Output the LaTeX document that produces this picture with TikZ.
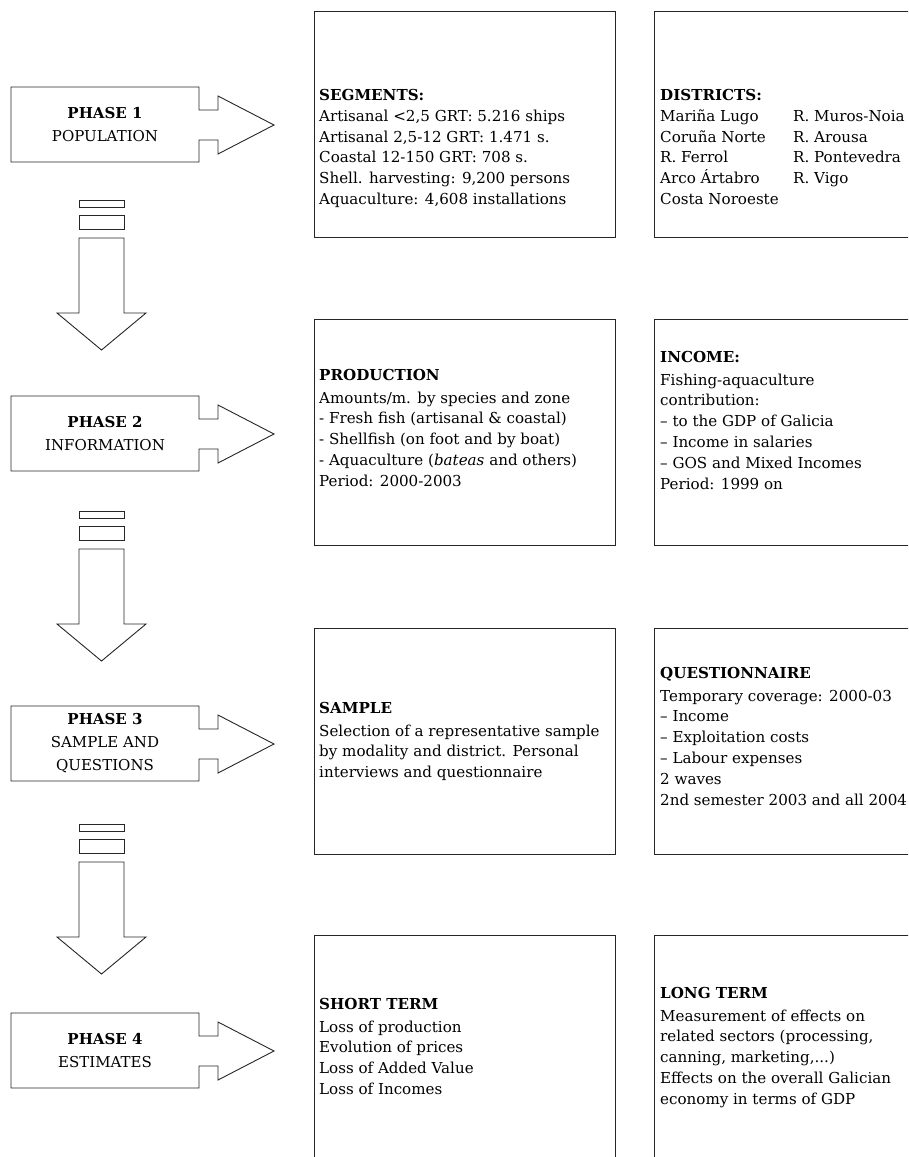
\documentclass[tikz,border=0pt]{standalone}
\usepackage{fontspec}
\setmainfont{DejaVu Serif}
\tikzset{
  outline/.style={draw=black!85, line width=0.9pt, line join=miter},
  phasetext/.style={align=center, inner sep=0pt, font=\fontsize{15}{23}\selectfont},
  infobox/.style={draw=black!85, line width=0.9pt, rectangle, inner sep=0pt,
                  anchor=north west, minimum width=301pt, minimum height=226pt},
  widebox/.style={infobox, minimum width=300pt},
  infotext/.style={inner sep=0pt, anchor=base west, font=\fontsize{15.1}{20.8}\selectfont},
}
% A phase label with its arrow pointing right; #1 = top edge, #2 = node name, #3 = label
\newcommand\phaseblock[3]{%
  \begin{scope}[shift={(0,#1)}]
    \draw[outline] (11,0) -- (199,0) -- (199,23) -- (218,23) -- (218,9) -- (274,38)
      -- (218,67) -- (218,53) -- (199,53) -- (199,75) -- (11,75) -- cycle;
    \node[phasetext] (#2) at (105,37.5) {#3};
  \end{scope}}
% The broken block arrow leading down to the next phase; #1 = top of its first bar
\newcommand\phasedown[1]{%
  \begin{scope}[shift={(0,#1)}]
    \draw[outline] (79,0) rectangle (124,7);
    \draw[outline] (79,15) rectangle (124,29);
    \draw[outline] (79,38) -- (124,38) -- (124,113) -- (146,113) -- (101.5,150)
      -- (57,113) -- (79,113) -- cycle;
  \end{scope}}
\newcommand\lines[1]{\begin{tabular}[t]{@{}l@{}}#1\end{tabular}}
\begin{document}
\begin{tikzpicture}[x=1pt,y=-1pt]
\clip (0,0) rectangle (908,1157);
\fill[white] (0,0) rectangle (908,1157);

% Phase column
\phaseblock{87}{ph1}{\textbf{PHASE 1}\\POPULATION}
\phasedown{200}
\phaseblock{396}{ph2}{\textbf{PHASE 2}\\INFORMATION}
\phasedown{511}
\phaseblock{706}{ph3}{\textbf{PHASE 3}\\SAMPLE AND\\QUESTIONS}
\phasedown{824}
\phaseblock{1013}{ph4}{\textbf{PHASE 4}\\ESTIMATES}

% Detail boxes
\node[infobox] (seg)   at (313.5,11)  {};
\node[widebox] (dist)  at (653.5,11)  {};
\node[infobox] (prod)  at (313.5,319) {};
\node[widebox] (inc)   at (653.5,319) {};
\node[infobox] (samp)  at (313.5,628) {};
\node[widebox] (quest) at (653.5,628) {};
\node[infobox] (st)    at (313.5,935) {};
\node[widebox] (lt)    at (653.5,935) {};

\node[infotext] (seg-t) at ([shift={(5.5,89)}]seg.north west) {\lines{%
  \textbf{SEGMENTS:}\\[0.5pt]
  Artisanal <2,5 GRT: 5.216 ships\\
  Artisanal 2,5-12 GRT: 1.471 s.\\
  Coastal 12-150 GRT: 708 s.\\
  Shell. harvesting: 9,200 persons\\
  Aquaculture: 4,608 installations}};

\node[infotext] (dist-t) at ([shift={(6.5,89)}]dist.north west) {%
  \begin{tabular}[t]{@{}p{133pt}@{}l@{}}
  \multicolumn{2}{@{}l@{}}{\textbf{DISTRICTS:}}\\[0.5pt]
  Mariña Lugo & R. Muros-Noia\\
  Coruña Norte & R. Arousa\\
  R. Ferrol & R. Pontevedra\\
  Arco Ártabro & R. Vigo\\
  Costa Noroeste &
  \end{tabular}};

\node[infotext] (prod-t) at ([shift={(5.5,61)}]prod.north west) {\lines{%
  \textbf{PRODUCTION}\\[2.2pt]
  Amounts/m. by species and zone\\
  - Fresh fish (artisanal \& coastal)\\
  - Shellfish (on foot and by boat)\\
  - Aquaculture (\textit{bateas} and others)\\
  Period: 2000-2003}};

\node[infotext] (inc-t) at ([shift={(6.5,43)}]inc.north west) {\lines{%
  \textbf{INCOME:}\\[2.2pt]
  Fishing-aquaculture\\
  contribution:\\
  – to the GDP of Galicia\\
  – Income in salaries\\
  – GOS and Mixed Incomes\\
  Period: 1999 on}};

\node[infotext] (samp-t) at ([shift={(5.5,85)}]samp.north west) {\lines{%
  \textbf{SAMPLE}\\[2.2pt]
  Selection of a representative sample\\
  by modality and district. Personal\\
  interviews and questionnaire}};

\node[infotext] (quest-t) at ([shift={(6.5,50)}]quest.north west) {\lines{%
  \textbf{QUESTIONNAIRE}\\[2.2pt]
  Temporary coverage: 2000-03\\
  – Income\\
  – Exploitation costs\\
  – Labour expenses\\
  2 waves\\
  2nd semester 2003 and all 2004}};

\node[infotext] (st-t) at ([shift={(5.5,74)}]st.north west) {\lines{%
  \textbf{SHORT TERM}\\[2.2pt]
  Loss of production\\
  Evolution of prices\\
  Loss of Added Value\\
  Loss of Incomes}};

\node[infotext] (lt-t) at ([shift={(6.5,63)}]lt.north west) {\lines{%
  \textbf{LONG TERM}\\[2.2pt]
  Measurement of effects on\\
  related sectors (processing,\\
  canning, marketing,...)\\
  Effects on the overall Galician\\
  economy in terms of GDP}};
\end{tikzpicture}
\end{document}
